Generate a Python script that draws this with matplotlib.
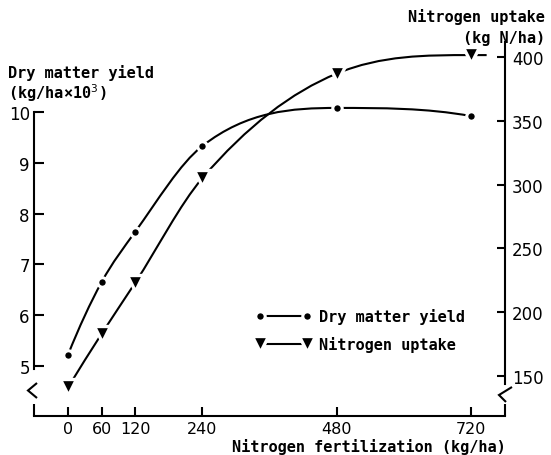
import numpy as np
import matplotlib
matplotlib.use("Agg")
import matplotlib.pyplot as plt
from matplotlib.path import Path
from matplotlib.patches import PathPatch
from matplotlib.lines import Line2D

# ---- data ----
n_rate = [0, 60, 120, 240, 480, 720]
dry_matter = [5.22, 6.65, 7.64, 9.33, 10.08, 9.92]
n_uptake = [141, 183, 223, 305, 387, 401.5]
x_ticks = [0, 60, 120, 240, 480, 720]
left_ticks = [5, 6, 7, 8, 9, 10]
right_ticks = [150, 200, 250, 300, 350, 400]

TXT_FONT = ['DejaVu Sans Mono']
TXT_WEIGHT = 'bold'
plt.rcParams['font.family'] = ['DejaVu Sans']
W, H = 551, 456
fig = plt.figure(figsize=(W / 100, H / 100), dpi=100)
AX_L, AX_R, AX_T, AX_B = 34, 505, 43, 417
ax = fig.add_axes([AX_L / W, (H - AX_B) / H, (AX_R - AX_L) / W, (AX_B - AX_T) / H])
ax2 = ax.twinx()

ax.set_xlim(-60.7, 780.8)
ax.set_ylim(4.016, 11.378)
ax2.set_ylim(118.65, 411.76)

LW = 1.5


def slopes(x, y):
    h = np.diff(x)
    d = np.diff(y) / h
    n = len(x)
    m = np.zeros(n)
    for i in range(1, n - 1):
        if d[i - 1] * d[i] > 0:
            s = 0.5 * (d[i - 1] + d[i])
            lim = 3 * min(abs(d[i - 1]), abs(d[i]))
            m[i] = np.sign(s) * min(abs(s), lim)
    def end(h0, h1, d0, d1):
        s = ((2 * h0 + h1) * d0 - h0 * d1) / (h0 + h1)
        if np.sign(s) != np.sign(d0):
            s = 0.0
        elif np.sign(d0) != np.sign(d1) and abs(s) > abs(3 * d0):
            s = 3 * d0
        return s
    m[0] = end(h[0], h[1], d[0], d[1])
    m[-1] = end(h[-1], h[-2], d[-1], d[-2])
    return m


def smooth_path(x, y, extend=0.0):
    x = np.asarray(x, float)
    y = np.asarray(y, float)
    m = slopes(x, y)
    verts = [(x[0], y[0])]
    codes = [Path.MOVETO]
    for i in range(len(x) - 1):
        dx = x[i + 1] - x[i]
        verts += [(x[i] + dx / 3, y[i] + m[i] * dx / 3),
                  (x[i + 1] - dx / 3, y[i + 1] - m[i + 1] * dx / 3),
                  (x[i + 1], y[i + 1])]
        codes += [Path.CURVE4] * 3
    if extend:
        verts.append((x[-1] + extend, y[-1] - 0.2 * abs(m[-1]) * extend))
        codes.append(Path.LINETO)
    return Path(verts, codes)


ax.add_patch(PathPatch(smooth_path(n_rate, dry_matter), fill=False, lw=LW,
                       edgecolor='black', zorder=2))
ax2.add_patch(PathPatch(smooth_path(n_rate, n_uptake, extend=28), fill=False, lw=LW,
                        edgecolor='black', zorder=2))

circ_kw = dict(marker='o', ms=6.8, mew=2.2, mfc='black', mec='white')
tri_kw = dict(marker='v', ms=11, mew=2.4, mfc='black', mec='white')
ax.plot(n_rate, dry_matter, ls='none', zorder=3, **circ_kw)
ax2.plot(n_rate, n_uptake, ls='none', zorder=3, **tri_kw)

# ---- axes styling ----
for s in ['top', 'right']:
    ax.spines[s].set_visible(False)
for s in ['top', 'left', 'bottom']:
    ax2.spines[s].set_visible(False)
for sp in [ax.spines['left'], ax.spines['bottom'], ax2.spines['right']]:
    sp.set_linewidth(LW)
ax.spines['left'].set_bounds(4.94, 10)
ax2.spines['right'].set_bounds(143.7, 411.76)

FS_TICK = 12
FS = 11
ax.set_xticks(x_ticks)
ax.set_yticks(left_ticks)
ax2.set_yticks(right_ticks)
ax.tick_params(axis='x', direction='in', length=6.5, width=LW, pad=3.5, labelsize=11.5)
ax.tick_params(axis='y', direction='in', length=7, width=LW, pad=3, labelsize=FS_TICK)
ax2.tick_params(axis='y', direction='in', length=6, width=LW, pad=5, labelsize=FS_TICK)


def axfrac(px, py):
    return ((px - AX_L) / (AX_R - AX_L), (AX_B - py) / (AX_B - AX_T))


def draw_px(pts):
    xs, ys = zip(*[axfrac(p[0], p[1]) for p in pts])
    ax.plot(xs, ys, color='black', lw=LW, transform=ax.transAxes, clip_on=False,
            solid_joinstyle='miter', solid_capstyle='butt')

# axis breaks
draw_px([(37, 384), (28, 391.5), (37, 399)])
draw_px([(34, 405), (34, 417)])
draw_px([(512, 388), (499, 396), (506, 403)])
draw_px([(505, 405), (505, 417)])

# ---- labels ----
tkw = dict(fontsize=FS, family=TXT_FONT, fontweight=TXT_WEIGHT)
ax.set_xlabel('Nitrogen fertilization (kg/ha)', ha='right', va='baseline', **tkw)
ax.xaxis.set_label_coords(*axfrac(506, 452))
fig.text(8 / W, 1 - 73 / H, 'Dry matter yield', ha='left', va='center', **tkw)
fig.text(8 / W, 1 - 93 / H, '(kg/ha×10$^3$)', ha='left', va='center', **tkw)
fig.text(545 / W, 1 - 17 / H, 'Nitrogen uptake', ha='right', va='center', **tkw)
fig.text(545 / W, 1 - 38 / H, '(kg N/ha)', ha='right', va='center', **tkw)

# ---- legend ----
h1 = Line2D([], [], color='black', lw=LW, **circ_kw)
h2 = Line2D([], [], color='black', lw=LW, **tri_kw)
ax2.legend([h1, h2], ['Dry matter yield', 'Nitrogen uptake'], loc='upper left',
           bbox_to_anchor=(255 / W, 1 - 309 / H), bbox_transform=fig.transFigure,
           frameon=False, numpoints=2, handlelength=3.7, handletextpad=0.5,
           labelspacing=0.8, borderpad=0, borderaxespad=0,
           prop={'family': TXT_FONT, 'size': FS, 'weight': TXT_WEIGHT})

fig.savefig('out.png', dpi=100)
